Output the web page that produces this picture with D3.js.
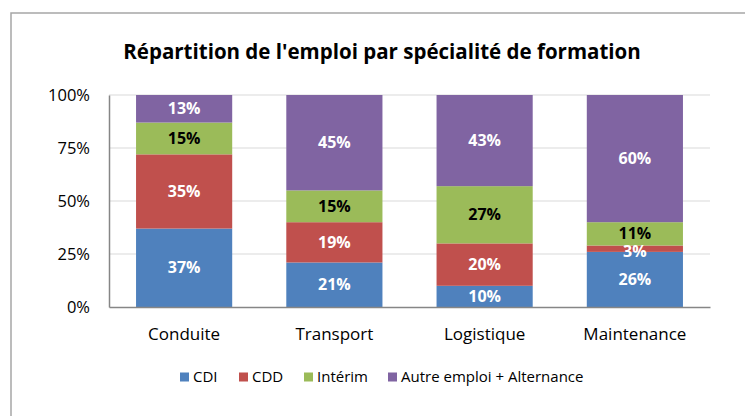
<!DOCTYPE html>
<html>
<head>
<meta charset="utf-8">
<script src="https://cdn.jsdelivr.net/npm/d3@7"></script>
<style>
  body { margin: 0; background: #fff; }
  svg { display: block; font-family: "Open Sans", Lato, sans-serif; }
</style>
</head>
<body>
<div id="wrapper"></div>
<script>
// data
var categories = ["Conduite", "Transport", "Logistique", "Maintenance"];
var seriesNames = ["CDI", "CDD", "Intérim", "Autre emploi + Alternance"];
var cdi = [37, 21, 10, 26];
var cdd = [35, 19, 20, 3];
var interim = [15, 15, 27, 11];
var autre = [13, 45, 43, 60];
var yTicks = [0, 25, 50, 75, 100];
var colors = ["#4F81BD", "#C0504D", "#9BBB59", "#8064A2"];
var labelColors = ["#fff", "#fff", "#000", "#fff"];

var width = 745, height = 416;
var margin = {top: 95, right: 35, bottom: 109, left: 109};

var svg = d3.select("#wrapper").append("svg")
  .attr("width", width)
  .attr("height", height);

// chart frame (runs off right/bottom edges like the screenshot)
svg.append("rect")
  .attr("x", 11).attr("y", 13)
  .attr("width", width + 20).attr("height", height + 20)
  .attr("fill", "#fff")
  .attr("stroke", "#A6A6A6")
  .attr("stroke-width", 1.5);

svg.append("text")
  .attr("x", 382).attr("y", 59)
  .attr("text-anchor", "middle")
  .style("font-size", "20.5px")
  .style("font-weight", "bold")
  .attr("fill", "#000")
  .text("Répartition de l'emploi par spécialité de formation");

var x = d3.scaleBand()
  .domain(categories)
  .range([margin.left, width - margin.right])
  .paddingInner(0.36)
  .paddingOuter(0.18);

var y = d3.scaleLinear()
  .domain([0, 100])
  .range([height - margin.bottom, margin.top]);

// gridlines
svg.append("g").selectAll("line")
  .data(yTicks.slice(1))
  .enter().append("line")
  .attr("x1", margin.left).attr("x2", width - margin.right)
  .attr("y1", function(d) { return y(d); })
  .attr("y2", function(d) { return y(d); })
  .attr("stroke", "#D9D9D9")
  .attr("stroke-width", 1);

// stack the series
var rows = categories.map(function(c, i) {
  return {cat: c, CDI: cdi[i], CDD: cdd[i], "Intérim": interim[i], "Autre emploi + Alternance": autre[i]};
});
var stacked = d3.stack().keys(seriesNames)(rows);

var layer = svg.append("g").selectAll("g")
  .data(stacked)
  .enter().append("g")
  .attr("fill", function(d, i) { return colors[i]; });

layer.selectAll("rect")
  .data(function(d) { return d; })
  .enter().append("rect")
  .attr("x", function(d) { return x(d.data.cat); })
  .attr("width", x.bandwidth())
  .attr("y", function(d) { return y(d[1]); })
  .attr("height", function(d) { return y(d[0]) - y(d[1]); });

// value labels
stacked.forEach(function(s, si) {
  svg.append("g").selectAll("text")
    .data(s)
    .enter().append("text")
    .attr("x", function(d) { return x(d.data.cat) + x.bandwidth() / 2; })
    .attr("y", function(d) {
      var mid = y((d[0] + d[1]) / 2);
      // tiny slice: label sits a bit lower, overlapping the blue
      if (d[1] - d[0] < 5) mid = y(d[0]) - 0.5;
      return mid;
    })
    .attr("dy", "0.35em")
    .attr("text-anchor", "middle")
    .style("font-size", "16px")
    .style("font-weight", "bold")
    .attr("fill", labelColors[si])
    .text(function(d) { return Math.round(d[1] - d[0]) + "%"; });
});

// axes
var yAxis = d3.axisLeft(y)
  .tickValues(yTicks)
  .tickSize(0)
  .tickPadding(19)
  .tickFormat(function(d) { return d + "%"; });

var gy = svg.append("g")
  .attr("transform", "translate(" + margin.left + ",0)")
  .call(yAxis);
gy.select(".domain").attr("stroke", "#868686").attr("stroke-width", 1.5);
gy.selectAll("text").style("font-size", "16.5px").attr("fill", "#000")
  .style("font-family", "'Open Sans', sans-serif");

var xAxis = d3.axisBottom(x).tickSize(0).tickPadding(21);
var gx = svg.append("g")
  .attr("transform", "translate(0," + (height - margin.bottom) + ")")
  .call(xAxis);
gx.select(".domain").attr("stroke", "#868686").attr("stroke-width", 1.5);
gx.selectAll("text").style("font-size", "17px").attr("fill", "#000")
  .style("font-family", "'Open Sans', sans-serif");

// legend
var legendX = [180, 239, 304, 388];
var legend = svg.append("g").selectAll("g")
  .data(seriesNames)
  .enter().append("g")
  .attr("transform", function(d, i) { return "translate(" + legendX[i] + ",377)"; });

legend.append("rect")
  .attr("x", 0).attr("y", -4.5)
  .attr("width", 9).attr("height", 9)
  .attr("fill", function(d, i) { return colors[i]; });

legend.append("text")
  .attr("x", 13).attr("dy", "0.35em")
  .style("font-size", "15px")
  .attr("fill", "#000")
  .text(function(d) { return d; });
</script>
</body>
</html>
